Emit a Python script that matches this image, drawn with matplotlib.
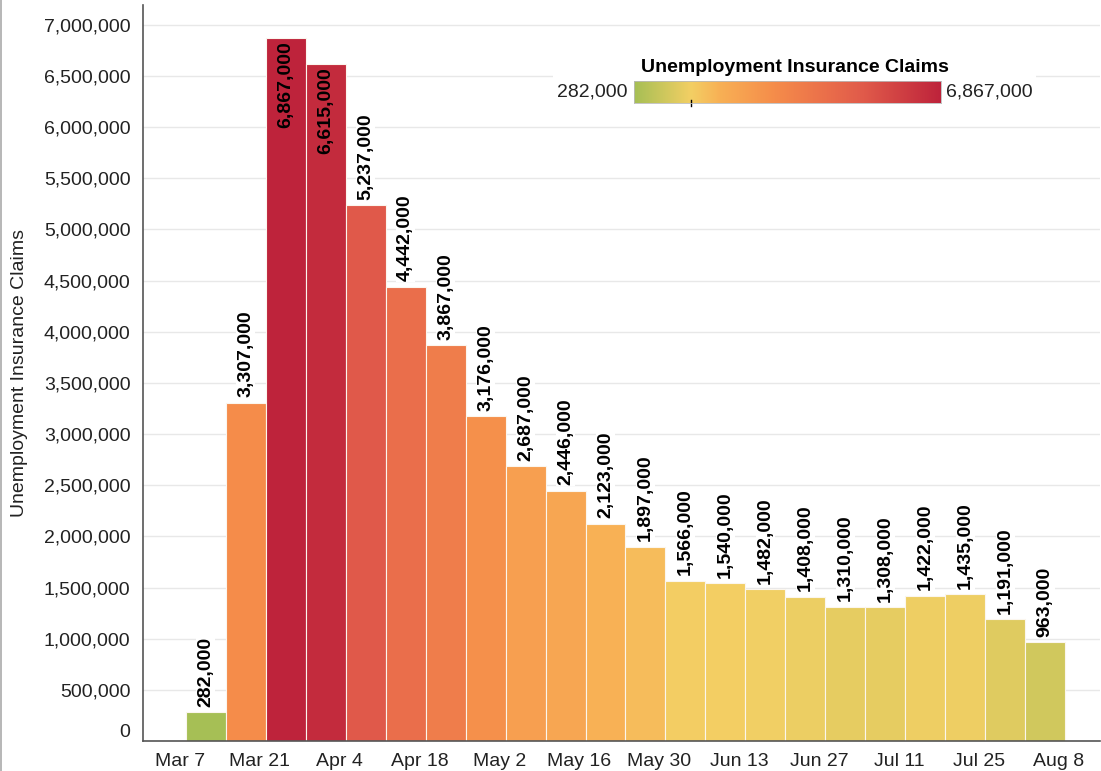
"""Weekly unemployment insurance claims, Mar-Aug, bars coloured by value."""
import matplotlib
matplotlib.use("Agg")
import matplotlib.pyplot as plt
from matplotlib.colors import LinearSegmentedColormap, Normalize
from matplotlib.lines import Line2D
from matplotlib.patches import Rectangle
from matplotlib.ticker import FuncFormatter
import numpy as np

claims = [282000, 3307000, 6867000, 6615000, 5237000, 4442000, 3867000,
          3176000, 2687000, 2446000, 2123000, 1897000, 1566000, 1540000,
          1482000, 1408000, 1310000, 1308000, 1422000, 1435000, 1191000,
          963000]
week_labels = ["Mar 7", "Mar 21", "Apr 4", "Apr 18", "May 2", "May 16",
               "May 30", "Jun 13", "Jun 27", "Jul 11", "Jul 25", "Aug 8"]
y_ticks = list(range(0, 7000001, 500000))
scale_mid = 1500000  # yellow point of the colour scale

W, H = 1101, 771
plt.rcParams.update({"font.family": ["Liberation Sans", "DejaVu Sans"],
                     "font.size": 14})

vmin, vmax = min(claims), max(claims)
cmap = LinearSegmentedColormap.from_list("claims", [
    (0.0, "#a6bf55"), (0.185, "#f3cf64"), (0.28, "#f8b055"),
    (0.46, "#f58c4a"), (0.63, "#ea6e4b"), (0.75, "#e05a4a"),
    (1.0, "#be233b")])
norm = Normalize(vmin, vmax)

fig = plt.figure(figsize=(W / 100, H / 100), dpi=100)
ax = fig.add_axes([143 / W, 30 / H, (1100 - 143) / W, (766 - 30) / H])

x = np.arange(len(claims))
ax.bar(x, claims, width=1.0, align="edge", color=cmap(norm(claims)),
       edgecolor="#fbf6ee", linewidth=0.8, zorder=2)

for xi, v in zip(x, claims):
    txt = f"{v:,}"
    if v > 6000000:
        ax.annotate(txt, (xi + 0.5, v), xytext=(0, -2), textcoords="offset points",
                    rotation=90, ha="center", va="top", fontsize=14,
                    fontweight="bold", color="black", zorder=4)
    else:
        ax.annotate(txt, (xi + 0.5, v), xytext=(0, 4), textcoords="offset points",
                    rotation=90, ha="center", va="bottom", fontsize=14,
                    fontweight="bold", color="black", zorder=4,
                    bbox=dict(boxstyle="square,pad=0.05", fc="white", ec="none"))

ax.set_xlim(-1.075, len(claims) + 0.875)
ax.set_ylim(0, 7194000)
ax.set_yticks(y_ticks)
ax.yaxis.set_major_formatter(FuncFormatter(lambda v, p: f"{int(v):,}"))
ax.set_xticks([2 * k - 0.15 for k in range(len(week_labels))])
ax.set_xticklabels(week_labels)
ax.tick_params(axis="both", length=0, labelsize=14, colors="#222222")
ax.tick_params(axis="y", pad=9)
ax.tick_params(axis="x", pad=9)
ax.get_yticklabels()[0].set_va("bottom")
ax.grid(axis="y", color="#e8e8e8", linewidth=1.0, zorder=0)
ax.set_axisbelow(True)
for sp in ("top", "right"):
    ax.spines[sp].set_visible(False)
for sp in ("left", "bottom"):
    ax.spines[sp].set_color("#555555")
    ax.spines[sp].set_linewidth(1.2)
ax.set_ylabel("Unemployment Insurance Claims", fontsize=14, color="#222222")
ax.yaxis.set_label_coords(-(143 - 20) / (1100 - 143), 0.5)
ax.yaxis.label.set_va("center")

# legend panel (white box over the gridlines)
fig.patches.append(Rectangle((553 / W, 1 - 108 / H), (1036 - 553) / W, 53 / H,
                             transform=fig.transFigure, fc="white", ec="none",
                             zorder=3))
cax = fig.add_axes([634 / W, 1 - 103 / H, 307 / W, 22 / H])
cax.set_zorder(5)
grad = np.linspace(vmin, vmax, 512).reshape(1, -1)
cax.imshow(grad, aspect="auto", cmap=cmap, norm=norm,
           extent=(vmin, vmax, 0, 1))
cax.set_xlim(vmin, vmax)
cax.set_ylim(0, 1)
cax.set_xticks([]); cax.set_yticks([])
for sp in cax.spines.values():
    sp.set_color("#bbbbbb"); sp.set_linewidth(0.6)
cax.plot([scale_mid, scale_mid], [-0.15, 0.12], color="black", lw=1.0,
         clip_on=False)
fig.text(795 / W, 1 - 67 / H, "Unemployment Insurance Claims", ha="center",
         va="center", fontsize=14, fontweight="bold", zorder=6)
fig.text(628 / W, 1 - 92 / H, f"{vmin:,}", ha="right", va="center",
         fontsize=14, color="#222222", zorder=6)
fig.text(946 / W, 1 - 92 / H, f"{vmax:,}", ha="left", va="center",
         fontsize=14, color="#222222", zorder=6)

fig.lines.append(Line2D([0.6 / W, 0.6 / W], [0, 1], transform=fig.transFigure,
                        color="#aaaaaa", lw=1.2))

fig.savefig("out.png", dpi=100)
